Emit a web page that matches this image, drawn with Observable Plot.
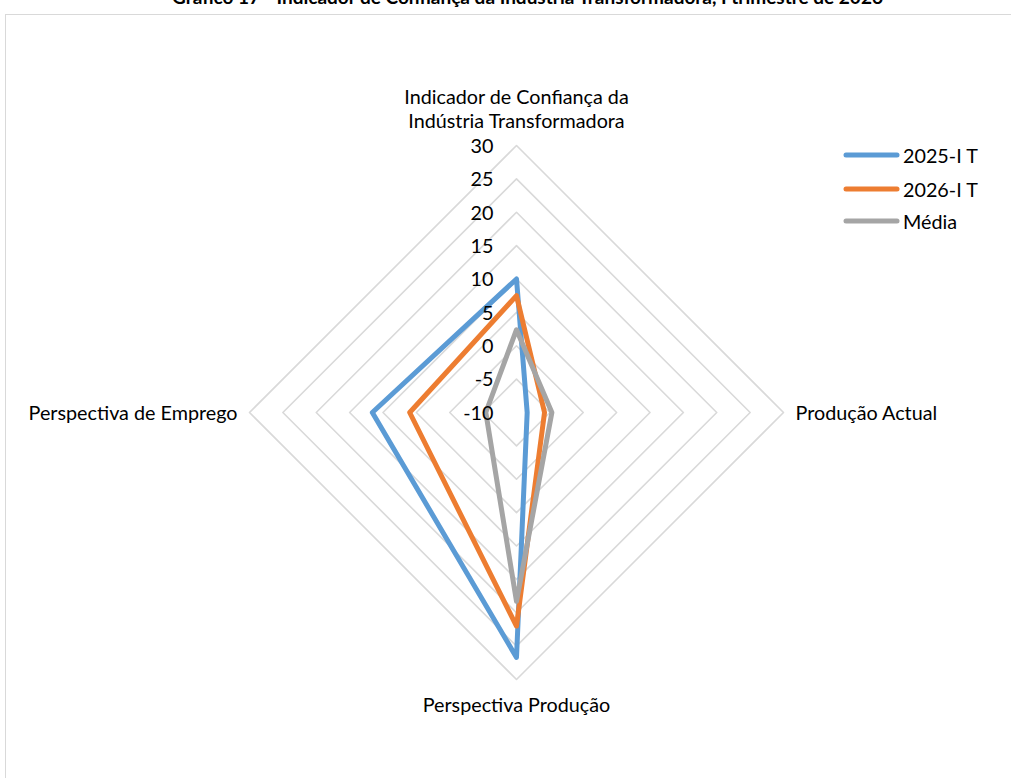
<!DOCTYPE html>
<html>
<head>
<meta charset="utf-8">
<script src="https://cdn.jsdelivr.net/npm/d3@7"></script>
<script src="https://cdn.jsdelivr.net/npm/@observablehq/plot@0.6"></script>
<style>
  html, body { margin: 0; padding: 0; background: #fff; overflow: hidden; }
  #wrap { position: relative; width: 1011px; height: 778px; overflow: hidden; font-family: Lato, "Open Sans", sans-serif; }
  #frame { position: absolute; left: 5px; top: 14px; width: 1100px; height: 900px; border: 1px solid #d9d9d9; box-sizing: border-box; }
  #title { position: absolute; left: 0; width: 1055px; top: -13px; text-align: center; font-weight: bold; font-size: 19px; line-height: 20px; color: #000; white-space: nowrap; }
  #chart { position: absolute; left: 0; top: 0; }
  .leg { position: absolute; left: 843px; display: flex; align-items: center; font-size: 18px; color: #000; }
</style>
</head>
<body>
<div id="wrap">
  <div id="frame"></div>
  <div id="title">Gráfico 17 - Indicador de Confiança da Indústria Transformadora, I trimestre de 2026</div>
  <div id="chart"></div>
</div>
<script>
// ---- data ----
const categories = [
  "Indicador de Confiança da\nIndústria Transformadora",
  "Produção Actual",
  "Perspectiva Produção",
  "Perspectiva de Emprego"
];
const seriesNames = ["2025-I T", "2026-I T", "Média"];
const s2025 = [10.0, -8.4, 26.7, 11.6];
const s2026 = [7.5, -5.8, 22.0, 6.0];
const sMedia = [2.4, -4.7, 18.3, -5.4];
const seriesColors = ["#5B9BD5", "#ED7D31", "#A5A5A5"];
const tickValues = [-10, -5, 0, 5, 10, 15, 20, 25, 30];

// ---- layout ----
const W = 1011, H = 778;
const cx = 516, cy = 412;         // pixel centre
const rMin = -10, rMax = 30;
const R = 267;                    // pixel radius of outer ring
const k = R / (rMax - rMin);      // px per unit

const angles = categories.map((_, i) => i * Math.PI / 2); // top, right, bottom, left
const pol = (v, i) => {
  const r = v - rMin;
  return { x: r * Math.sin(angles[i]), y: r * Math.cos(angles[i]) };
};

// measure text to scale a sans font to the reference width
const cnv = document.createElement("canvas").getContext("2d");
const FONT = "Lato, 'Open Sans', sans-serif";
cnv.font = `20px ${FONT}`;
const wRef = cnv.measureText("Perspectiva de Emprego").width;
const fs = Math.max(14, Math.min(24, 20 * 209 / wRef));

// rings
const rings = [];
tickValues.filter(t => t > rMin).forEach(t => {
  categories.forEach((_, i) => rings.push({ ring: t, ...pol(t, i), o: i }));
});

// series
const seriesData = [s2025, s2026, sMedia];
const lines = [];
seriesData.forEach((vals, s) => vals.forEach((v, i) => lines.push({ s: seriesNames[s], ...pol(v, i), o: i })));

// tick labels on top axis
const tickLabels = tickValues.map(t => ({ t, ...pol(t, 0) }));

// category labels
const catLabels = categories.map((c, i) => ({ c, ...pol(rMax, i), i }));

const chart = Plot.plot({
  width: W,
  height: H,
  margin: 0,
  x: { domain: [-cx / k, (W - cx) / k], range: [0, W], axis: null },
  y: { domain: [-(H - cy) / k, cy / k], range: [H, 0], axis: null },
  color: { domain: seriesNames, range: seriesColors },
  style: { fontFamily: FONT, background: "transparent" },
  marks: [
    Plot.line(rings, { x: "x", y: "y", z: "ring", curve: "linear-closed", stroke: "#d9d9d9", strokeWidth: 1.6 }),
    Plot.line(lines, { x: "x", y: "y", z: "s", stroke: "s", curve: "linear-closed", strokeWidth: 5, strokeLinejoin: "round" }),
    Plot.text(tickLabels, { x: "x", y: "y", text: d => String(d.t), textAnchor: "end", dx: -23, dy: 1, fontSize: fs, fill: "#000" }),
    Plot.text(catLabels.filter(d => d.i === 0), { x: "x", y: "y", text: "c", textAnchor: "middle", dy: -37, lineHeight: 1.2, fontSize: fs, fill: "#000" }),
    Plot.text(catLabels.filter(d => d.i === 1), { x: "x", y: "y", text: "c", textAnchor: "start", dx: 12, dy: 1, fontSize: fs, fill: "#000" }),
    Plot.text(catLabels.filter(d => d.i === 2), { x: "x", y: "y", text: "c", textAnchor: "middle", dy: 26, fontSize: fs, fill: "#000" }),
    Plot.text(catLabels.filter(d => d.i === 3), { x: "x", y: "y", text: "c", textAnchor: "end", dx: -12, dy: 1, fontSize: fs, fill: "#000" })
  ]
});
document.getElementById("chart").appendChild(chart);

// legend
const legTops = [155, 189, 221];
seriesNames.forEach((n, i) => {
  const d = document.createElement("div");
  d.className = "leg";
  d.style.top = (legTops[i] - 12) + "px";
  d.style.height = "24px";
  d.style.fontSize = fs + "px";
  d.innerHTML = `<svg width="58" height="10" style="margin-right:2px"><line x1="3" y1="5" x2="54" y2="5" stroke="${seriesColors[i]}" stroke-width="5" stroke-linecap="round"/></svg><span>${n}</span>`;
  document.getElementById("wrap").appendChild(d);
});
</script>
</body>
</html>
